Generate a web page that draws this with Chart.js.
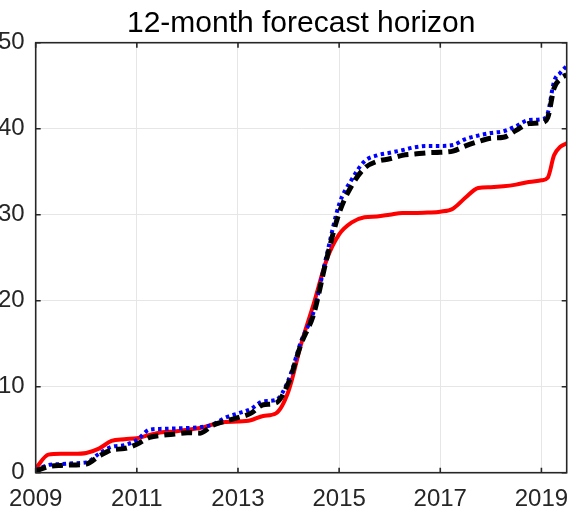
<!DOCTYPE html>
<html>
<head>
<meta charset="utf-8">
<script src="https://cdn.jsdelivr.net/npm/chart.js@4.4.1/dist/chart.umd.min.js"></script>
<style>
  html, body { margin: 0; padding: 0; background: #fff; overflow: hidden; width: 572px; height: 507px; }
  #wrap { position: absolute; left: -40px; top: 0; width: 612px; height: 540px; }
</style>
</head>
<body>
<div id="wrap"><canvas id="c"></canvas></div>
<script>
// decimal years
const dates = [2009.0, 2009.25, 2009.5, 2009.75, 2010.0, 2010.25, 2010.5, 2010.75,
  2011.0, 2011.25, 2011.5, 2011.75, 2012.0, 2012.25, 2012.5, 2012.75,
  2013.0, 2013.25, 2013.5, 2013.75, 2014.0, 2014.25, 2014.5, 2014.75,
  2015.0, 2015.25, 2015.5, 2015.75, 2016.0, 2016.25, 2016.5, 2016.75,
  2017.0, 2017.25, 2017.5, 2017.75, 2018.0, 2018.25, 2018.5, 2018.75,
  2019.0, 2019.125, 2019.25, 2019.375, 2019.5];

const redSeries = [0.5, 2.1, 2.2, 2.2, 2.3, 2.8, 3.7, 3.9,
  4.0, 4.4, 4.7, 4.8, 5.0, 5.2, 5.6, 5.9,
  5.95, 6.1, 6.6, 6.9, 9.5, 15.0, 19.7, 24.7,
  27.7, 29.1, 29.7, 29.8, 30.0, 30.2, 30.2, 30.25,
  30.35, 30.7, 32.0, 33.1, 33.2, 33.3, 33.5, 33.8,
  34.0, 34.3, 36.9, 37.9, 38.3];

const blueSeries = [0.3, 0.9, 1.0, 1.1, 1.2, 2.2, 3.0, 3.2,
  3.8, 5.0, 5.1, 5.15, 5.2, 5.3, 5.6, 6.4,
  6.9, 7.4, 8.3, 8.45, 10.8, 15.3, 18.8, 25.2,
  31.2, 34.1, 36.2, 36.9, 37.2, 37.5, 37.85, 38.0,
  38.0, 38.1, 38.8, 39.2, 39.5, 39.7, 40.3, 41.0,
  41.1, 41.8, 45.5, 46.5, 47.3];

const blackSeries = [0.2, 0.7, 0.85, 0.9, 1.0, 1.9, 2.65, 2.8,
  3.3, 4.1, 4.35, 4.5, 4.65, 4.6, 5.5, 6.0,
  6.4, 6.9, 7.9, 8.1, 10.5, 15.0, 18.5, 24.8,
  30.2, 33.4, 35.4, 36.2, 36.5, 36.9, 37.05, 37.2,
  37.25, 37.4, 38.0, 38.5, 38.9, 39.0, 39.8, 40.6,
  40.7, 41.3, 44.7, 45.8, 46.3];

const xTicks = [2009, 2011, 2013, 2015, 2017, 2019];
const yTicks = [0, 10, 20, 30, 40, 50];
const titleText = '12-month forecast horizon';

const pts = arr => dates.map((d, i) => ({ x: d, y: arr[i] }));

const frameColor = '#262626';
const gridColor = '#e6e6e6';

const boxPlugin = {
  id: 'box',
  afterDraw(chart) {
    const { ctx, chartArea: a, scales } = chart;
    const tl = 5;
    ctx.save();
    ctx.strokeStyle = frameColor;
    ctx.lineWidth = 1.6;
    ctx.beginPath();
    xTicks.forEach(v => {
      const px = scales.x.getPixelForValue(v);
      ctx.moveTo(px, a.bottom); ctx.lineTo(px, a.bottom - tl);
      ctx.moveTo(px, a.top); ctx.lineTo(px, a.top + tl);
    });
    yTicks.forEach(v => {
      const py = scales.y.getPixelForValue(v);
      ctx.moveTo(a.left, py); ctx.lineTo(a.left + tl, py);
      ctx.moveTo(a.right, py); ctx.lineTo(a.right - tl, py);
    });
    ctx.stroke();
    ctx.strokeRect(a.left, a.top, a.right - a.left, a.bottom - a.top);
    ctx.restore();
  }
};

const zeroPad = s => { s.paddingLeft = 0; s.paddingRight = 0; s.paddingTop = 0; s.paddingBottom = 0; };

new Chart(document.getElementById('c'), {
  type: 'line',
  data: {
    datasets: [
      { data: pts(blackSeries), borderColor: '#000000', borderWidth: 5, borderDash: [11, 6],
        pointRadius: 0, cubicInterpolationMode: 'monotone', borderCapStyle: 'butt' },
      { data: pts(blueSeries), borderColor: '#0000ff', borderWidth: 4, borderDash: [3.5, 3.5],
        pointRadius: 0, cubicInterpolationMode: 'monotone', borderCapStyle: 'butt' },
      { data: pts(redSeries), borderColor: '#ff0000', borderWidth: 4,
        pointRadius: 0, cubicInterpolationMode: 'monotone', borderJoinStyle: 'round', borderCapStyle: 'round' }
    ]
  },
  options: {
    responsive: true,
    maintainAspectRatio: false,
    animation: false,
    layout: { padding: { left: 0, right: 5.3, top: 0, bottom: 0 } },
    plugins: {
      legend: { display: false },
      tooltip: { enabled: false },
      title: {
        display: true,
        text: titleText,
        fullSize: false,
        color: '#000000',
        font: { family: 'Liberation Sans, Arial, sans-serif', size: 30, weight: 'normal' },
        padding: { top: 6, bottom: 0.7 }
      }
    },
    scales: {
      x: {
        type: 'linear',
        min: 2009,
        max: 2019.5,
        afterBuildTicks: s => { s.ticks = xTicks.map(v => ({ value: v })); },
        afterFit: s => { s.height = 67.3; zeroPad(s); },
        grid: { color: gridColor, lineWidth: 1, drawTicks: false, tickLength: 0 },
        border: { display: false },
        ticks: {
          color: frameColor, padding: 12.5, maxRotation: 0, autoSkip: false,
          font: { family: 'Liberation Sans, Arial, sans-serif', size: 24 },
          callback: v => String(v)
        }
      },
      y: {
        type: 'linear',
        min: 0,
        max: 50,
        afterBuildTicks: s => { s.ticks = yTicks.map(v => ({ value: v })); },
        afterFit: s => { s.width = 75.7; zeroPad(s); },
        grid: { color: gridColor, lineWidth: 1, drawTicks: false, tickLength: 0 },
        border: { display: false },
        ticks: {
          color: frameColor, padding: 11,
          font: { family: 'Liberation Sans, Arial, sans-serif', size: 24 },
          callback: v => String(v)
        }
      }
    }
  },
  plugins: [boxPlugin]
});
</script>
</body>
</html>
